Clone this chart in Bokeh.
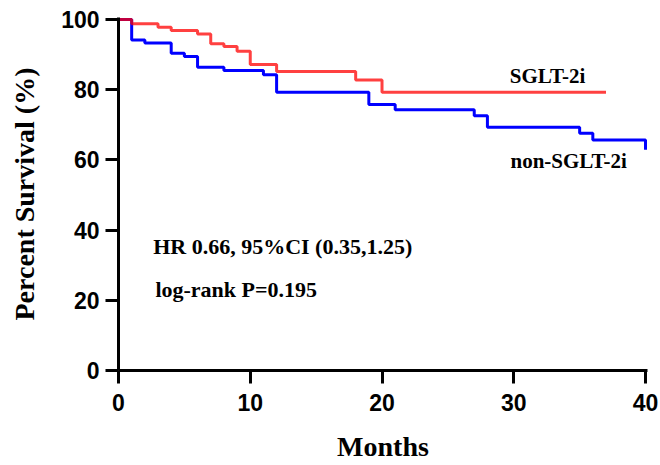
from bokeh.plotting import figure
from bokeh.models import Range1d, Label, FixedTicker
from bokeh.embed import file_html
from bokeh.resources import INLINE

# SGLT-2i group (Kaplan-Meier steps)
sglt_months = [0, 1, 3, 4, 6, 7, 8, 9, 10, 12, 18, 20, 37]
sglt_surv = [100, 98.8, 97.8, 96.9, 95.9, 93.1, 92.3, 91.0, 87.2, 85.2, 82.8, 79.3, 79.3]

# non-SGLT-2i group
non_months = [0, 1, 2, 4, 5, 6, 8, 11, 12, 19, 21, 27, 28, 35, 36, 40]
non_surv = [100, 94.2, 93.3, 90.4, 89.5, 86.4, 85.5, 84.3, 79.3, 75.8, 74.3, 72.6, 69.3, 67.6, 65.7, 62.9]

x_ticks = [0, 10, 20, 30, 40]
y_ticks = [0, 20, 40, 60, 80, 100]

series_labels = ["SGLT-2i", "non-SGLT-2i"]
stats_text = ["HR 0.66, 95%CI (0.35,1.25)", "log-rank P=0.195"]

p = figure(width=660, height=465, output_backend="svg", toolbar_location=None,
           x_range=Range1d(0, 40.15), y_range=Range1d(0, 100.6),
           min_border_left=118, min_border_right=13, min_border_top=17, min_border_bottom=95)
p.outline_line_color = None
p.grid.visible = False
p.background_fill_color = "white"
p.border_fill_color = "white"

p.step(non_months, non_surv, mode="after", line_color="#0000ff", line_width=3)
p.step(sglt_months, sglt_surv, mode="after", line_color="#ff0000", line_alpha=0.75, line_width=3)

for ax in (p.xaxis[0], p.yaxis[0]):
    ax.axis_line_width = 3
    ax.axis_line_color = "black"
    ax.major_tick_line_width = 3
    ax.major_tick_line_color = "black"
    ax.major_tick_out = 13
    ax.major_tick_in = 0
    ax.minor_tick_line_color = None
    ax.major_label_text_font = "Liberation Sans"
    ax.major_label_text_font_style = "bold"
    ax.major_label_text_font_size = "23px"
    ax.major_label_text_color = "black"
    ax.axis_label_text_font = "Liberation Serif"
    ax.axis_label_text_font_style = "bold"
    ax.axis_label_text_font_size = "28px"
    ax.axis_label_text_color = "black"

p.xaxis.ticker = FixedTicker(ticks=x_ticks)
p.yaxis.ticker = FixedTicker(ticks=y_ticks)
p.xaxis.axis_label = "Months"
p.yaxis.axis_label = "Percent Survival (%)"
p.xaxis.major_label_standoff = 10
p.yaxis.major_label_standoff = 6
p.xaxis.axis_label_standoff = 17
p.yaxis.axis_label_standoff = 18

lab_kw = dict(text_font="Liberation Serif", text_font_style="bold", text_color="black",
              text_align="left", text_baseline="alphabetic")
p.add_layout(Label(x=29.7, y=83.8, text=series_labels[0], text_font_size="21px", **lab_kw))
p.add_layout(Label(x=29.75, y=59.8, text=series_labels[1], text_font_size="21px", **lab_kw))
p.add_layout(Label(x=2.63, y=35.4, text=stats_text[0], text_font_size="22px", **lab_kw))
p.add_layout(Label(x=2.8, y=23.0, text=stats_text[1], text_font_size="22px", **lab_kw))

open("out.html", "w").write(file_html(p, INLINE))
